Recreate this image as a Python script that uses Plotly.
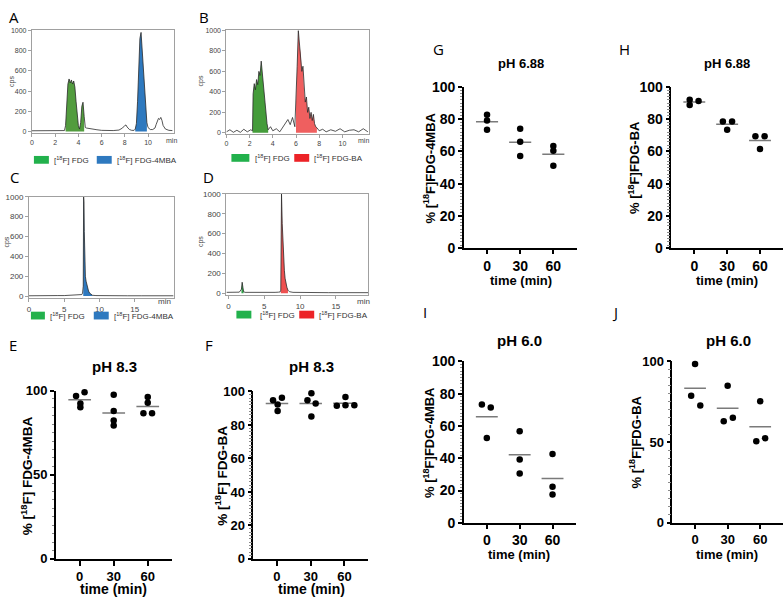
import plotly.graph_objects as go
import numpy as np

W, H = 784, 600
FONT = 'Liberation Sans, Arial, sans-serif'

# ---------------- Chromatogram data ----------------
A_t = [0, 0.5, 1.0, 1.5, 2.0, 2.5, 2.8, 2.9, 3.0, 3.1, 3.2, 3.3, 3.4, 3.5, 3.6, 3.7, 3.8, 3.9, 4.0, 4.1,
       4.2, 4.3, 4.4, 4.5, 4.6, 4.7, 4.9, 5.2, 5.6, 6.0, 6.5, 7.0, 7.5, 7.8, 8.0, 8.1, 8.2, 8.4, 8.6, 8.8,
       8.9, 9.0, 9.1, 9.2, 9.3, 9.4, 9.5, 9.6, 9.7, 9.8, 9.9, 10.0, 10.2, 10.4, 10.6, 10.7, 10.8, 10.9,
       11.0, 11.1, 11.2, 11.3, 11.5, 11.8, 12.1]
A_c = [8, 8, 8, 8, 8, 8, 10, 60, 330, 470, 520, 480, 510, 470, 500, 440, 300, 150, 60, 25,
       90, 250, 290, 150, 40, 35, 30, 25, 18, 12, 10, 10, 15, 35, 60, 65, 45, 20, 12, 12,
       25, 80, 300, 620, 920, 980, 800, 560, 350, 200, 90, 40, 20, 20, 35, 70, 110, 130,
       120, 140, 110, 60, 25, 12, 10]
A_green = (2.85, 4.55)
A_blue = (8.85, 9.95)

B_t = [0, 0.3, 0.6, 0.9, 1.2, 1.5, 1.8, 2.1, 2.25, 2.3, 2.4, 2.5, 2.6, 2.7, 2.8, 2.9, 3.0, 3.05, 3.1,
       3.2, 3.3, 3.4, 3.5, 3.6, 3.8, 4.0, 4.3, 4.6, 4.9, 5.1, 5.3, 5.5, 5.7, 5.9, 6.0, 6.1, 6.2, 6.3,
       6.4, 6.5, 6.6, 6.7, 6.8, 6.9, 7.0, 7.1, 7.2, 7.3, 7.4, 7.5, 7.6, 7.7, 7.8, 8.0, 8.3, 8.6, 9.0,
       9.4, 9.8, 10.2, 10.6, 11.0, 11.4, 11.8, 12.2]
B_c = [10, 30, 5, 25, 5, 35, 10, 30, 20, 380, 480, 420, 520, 470, 600, 560, 700, 640, 520,
       420, 280, 160, 90, 30, 60, 20, 40, 10, 60, 90, 130, 80, 150, 60, 300, 650, 1000, 850,
       780, 600, 650, 400, 300, 350, 200, 250, 140, 200, 120, 180, 90, 60, 50, 20, 35, 10, 30,
       15, 40, 10, 25, 30, 10, 40, 10]
B_green = (2.25, 3.6)
B_red = (5.95, 7.8)

C_t = [0, 1, 2, 3, 4, 5, 6, 6.5, 7, 7.3, 7.5, 7.6, 7.7, 7.75, 7.8, 7.85, 7.9, 7.95, 8.0, 8.1, 8.2,
       8.3, 8.45, 8.6, 8.8, 9.0, 9.5, 10, 12, 14, 16, 18, 19, 20, 20.5]
C_c = [3, 5, 6, 4, 5, 5, 8, 10, 12, 10, 15, 30, 100, 1000, 950, 650, 420, 280, 200, 150, 110,
       80, 50, 30, 15, 8, 5, 4, 4, 3, 3, 3, 3, 3, 3]
C_blue = (7.7, 9.0)

D_t = [-0.3, 0.5, 1, 1.5, 1.8, 1.9, 2.0, 2.1, 2.3, 3, 4, 5, 6, 6.5, 7, 7.2, 7.3, 7.35, 7.4, 7.5,
       7.6, 7.7, 7.8, 7.9, 8.0, 8.15, 8.3, 8.5, 9, 10, 12, 14, 16, 18, 19.5]
D_c = [8, 8, 8, 10, 40, 110, 60, 15, 8, 7, 7, 6, 8, 8, 10, 12, 30, 300, 1000, 700,
       500, 350, 230, 150, 100, 60, 30, 15, 8, 6, 5, 5, 5, 5, 5]
D_green = (1.75, 2.2)
D_red = (7.3, 8.4)

# ---------------- Stability data (% product) ----------------
times = [0, 30, 60]
E_vals = [[96.7, 99.0, 92.3, 90.0], [97.5, 87.8, 82.2, 79.3], [96.1, 92.7, 86.5, 86.5]]
F_vals = [[94.8, 96.3, 92.2, 88.3], [94.8, 99.0, 92.8, 85.0], [91.5, 96.7, 91.8, 91.8]]
G_vals = [[82.8, 79.2, 73.4], [74.0, 66.0, 57.2], [63.4, 60.4, 51.2]]
H_vals = [[92.0, 88.8, 91.2], [78.6, 78.6, 73.4], [69.4, 69.4, 61.6]]
I_vals = [[73.2, 71.4, 52.5], [56.7, 39.2, 30.6], [42.7, 22.3, 17.5]]
J_vals = [[98.4, 78.7, 72.7], [84.9, 62.9, 65.1], [75.3, 50.6, 52.4]]

# horizontal scatter offsets of points (minutes) as drawn by the scatter plot
E_jit = [[-3.2, 4.3, 0.6, 0.6], [0, 0, 0, 0], [0, 0, -3.8, 3.8]]
F_jit = [[-3.5, 4.4, 0.6, 0.6], [-2.9, 0.6, 4.4, 0.6], [-6.8, 0.9, 0.9, 8.8]]
G_jit = [[0, 0, 0], [0, 0, 0], [0, 0, 0]]
H_jit = [[-4.2, -4.2, 3.9], [-3.9, 4.5, 0], [-4.2, 4.2, 0]]
I_jit = [[-4.5, 3.6, 0], [0, 0, 0], [0, 0, 0]]
J_jit = [[0, -3.6, 4.8], [0, -3.6, 4.8], [0, -3.6, 4.5]]

GREEN_LEG, BLUE, RED_LEG = '#22b14c', '#2e79bf', '#ec2327'

def px(x):
    return x / W

def py(y):
    return 1 - y / H

fig = go.Figure()
layout = {}
annotations = []
shapes = []

def axname(i):
    return ('' if i == 1 else str(i))

def chrom_axes(i, x0, x1, ytop, ybot, xr, xticks, yr, tsize):
    s = axname(i)
    common = dict(showline=True, mirror=True, linecolor='#a0a0a0', linewidth=1, ticks='outside',
                  ticklen=3, tickcolor='#a0a0a0', showgrid=False, zeroline=False,
                  tickfont=dict(family=FONT, size=tsize, color='#444'))
    layout['xaxis' + s] = dict(domain=[px(x0), px(x1)], anchor='y' + s, range=xr,
                               tickvals=xticks, **common)
    layout['yaxis' + s] = dict(domain=[py(ybot), py(ytop)], anchor='x' + s, range=yr,
                               tickvals=[0, 200, 400, 600, 800, 1000], **common)

def chrom_traces(i, t, c, fills):
    s = axname(i)
    t = np.array(t, dtype=float)
    c = np.array(c, dtype=float)
    for (a, b), col in fills:
        m = (t >= a) & (t <= b)
        fig.add_trace(go.Scatter(x=t[m], y=c[m], mode='lines', line=dict(width=0),
                                 fill='tozeroy', fillcolor=col, xaxis='x' + s, yaxis='y' + s,
                                 showlegend=False, hoverinfo='skip'))
    fig.add_trace(go.Scatter(x=t, y=c, mode='lines', line=dict(color='#2a2a2a', width=0.8),
                             xaxis='x' + s, yaxis='y' + s, showlegend=False))

def scatter_panel(i, x0, x1, ytop, ybot, vals, jit, dtick, mdtick, tfs, xticklen=4):
    s = axname(i)
    bold = dict(family=FONT, size=tfs, color='black', weight='bold')
    layout['xaxis' + s] = dict(domain=[px(x0), px(x1)], anchor='y' + s, range=[-21, 81],
                               tickvals=times, showline=True, linecolor='black', linewidth=1.5,
                               ticks='outside', ticklen=xticklen, tickwidth=1.5, tickcolor='black',
                               showgrid=False, zeroline=False, tickfont=bold)
    layout['yaxis' + s] = dict(domain=[py(ybot), py(ytop)], anchor='x' + s, range=[0, 100],
                               tick0=0, dtick=dtick, showline=True, linecolor='black',
                               linewidth=1.5, ticks='outside', ticklen=4, tickwidth=1.5,
                               tickcolor='black', showgrid=False, zeroline=False, tickfont=bold,
                               minor=dict(ticks='outside', dtick=mdtick, ticklen=2.5,
                                          tickcolor='#8a8a8a', tickwidth=1, showgrid=False))
    xs, ys, mx, my = [], [], [], []
    for t, v, j in zip(times, vals, jit):
        xs += [t + d for d in j]
        ys += v
        m = float(np.mean(v))
        mx += [t - 10, t + 10, None]
        my += [m, m, None]
    fig.add_trace(go.Scatter(x=mx, y=my, mode='lines', line=dict(color='#7a7a7a', width=1.5),
                             xaxis='x' + s, yaxis='y' + s, showlegend=False))
    fig.add_trace(go.Scatter(x=xs, y=ys, mode='markers', cliponaxis=False,
                             marker=dict(color='black', size=6.5), xaxis='x' + s, yaxis='y' + s,
                             showlegend=False))

def ann(x, y, text, size, angle=0, family=FONT, weight='normal', color='black',
        xanchor='center'):
    annotations.append(dict(x=px(x), y=py(y), xref='paper', yref='paper', text=text,
                            showarrow=False, textangle=angle, xanchor=xanchor, yanchor='middle',
                            font=dict(family=family, size=size, color=color, weight=weight)))

def legend_box(x0, x1, y0, y1, col, tx, text):
    shapes.append(dict(type='rect', xref='paper', yref='paper', x0=px(x0), x1=px(x1),
                       y0=py(y1), y1=py(y0), fillcolor=col, line=dict(width=0)))
    ann(tx, (y0 + y1) / 2, text, 8, color='#333', xanchor='left')

# ---- Chromatograms ----
chrom_axes(1, 30, 172, 23, 128, [0, 12.2], [0, 2, 4, 6, 8, 10], [-10, 1000], 7)
chrom_traces(1, A_t, A_c, [(A_green, '#529c3e'), (A_blue, BLUE)])
chrom_axes(2, 225, 368, 23, 129, [0, 12.3], [0, 2, 4, 6, 8, 10], [-7, 1000], 7)
chrom_traces(2, B_t, B_c, [(B_green, '#449c3a'), (B_red, '#ef5f5f')])
chrom_axes(3, 27, 172, 194, 298, [0, 20.5], [0, 5, 10, 15], [-20, 1000], 8)
chrom_traces(3, C_t, C_c, [(C_blue, BLUE)])
chrom_axes(4, 225, 367, 191, 295, [-0.3, 19.5], [0, 5, 10, 15], [-20, 1000], 8)
chrom_traces(4, D_t, D_c, [(D_green, '#2fa048'), (D_red, '#ee5050')])

for (x, y) in [(10, 75), (200, 75), (5, 240), (199, 240)]:
    ann(x, y, 'cps', 7, angle=-90, color='#444')
for (x, y, sz) in [(170, 136, 7), (362, 136, 7), (163, 302, 8), (362, 302, 8)]:
    ann(x, y, 'min', sz, color='#444')

legend_box(32, 47, 152, 160, GREEN_LEG, 50, '[<sup>18</sup>F] FDG')
legend_box(95, 110, 152, 160, BLUE, 113, '[<sup>18</sup>F] FDG-4MBA')
legend_box(230, 248, 150, 158, GREEN_LEG, 252, '[<sup>18</sup>F] FDG')
legend_box(293, 308, 150, 158, RED_LEG, 311, '[<sup>18</sup>F] FDG-BA')
legend_box(29, 43, 312, 320, GREEN_LEG, 46, '[<sup>18</sup>F] FDG')
legend_box(92, 107, 312, 320, BLUE, 110, '[<sup>18</sup>F] FDG-4MBA')
legend_box(235, 250, 311, 319, GREEN_LEG, 257, '[<sup>18</sup>F] FDG')
legend_box(298, 313, 311, 319, RED_LEG, 316, '[<sup>18</sup>F] FDG-BA')

# ---- Stability scatter panels ----
scatter_panel(5, 54, 170, 393, 566, E_vals, E_jit, 50, 5, 13, xticklen=5)
scatter_panel(6, 252, 367, 394, 566, F_vals, F_jit, 20, 2, 13, xticklen=5)
scatter_panel(7, 463, 576, 81, 247, G_vals, G_jit, 20, 2, 14)
scatter_panel(8, 671, 783, 81, 247, H_vals, H_jit, 20, 2, 14)
scatter_panel(9, 463, 575, 363, 529, I_vals, I_jit, 20, 2, 14)
scatter_panel(10, 672, 783, 363, 529, J_vals, J_jit, 50, 5, 13)

B = 'bold'
ann(113, 368, 'pH 8.3', 15, weight=B)
ann(310, 368, 'pH 8.3', 15, weight=B)
ann(520, 57, 'pH 6.88', 13, weight=B)
ann(727, 57, 'pH 6.88', 13, weight=B)
ann(519, 342, 'pH 6.0', 15, weight=B)
ann(728, 342, 'pH 6.0', 15, weight=B)

ann(25, 480, '% [<sup>18</sup>F] FDG-4MBA', 13.5, angle=-90, weight=B)
ann(220, 480, '% [<sup>18</sup>F] FDG-BA', 13.5, angle=-90, weight=B)
ann(428, 164, '% [<sup>18</sup>F]FDG-4MBA', 13, angle=-90, weight=B)
ann(633, 164, '% [<sup>18</sup>F]FDG-BA', 13, angle=-90, weight=B)
ann(428, 446, '% [<sup>18</sup>F]FDG-4MBA', 13, angle=-90, weight=B)
ann(635, 446, '% [<sup>18</sup>F]FDG-BA', 13, angle=-90, weight=B)

ann(112, 597, 'time (min)', 14, weight=B)
ann(310, 597, 'time (min)', 14, weight=B)
ann(520, 280, 'time (min)', 13, weight=B)
ann(727, 280, 'time (min)', 13, weight=B)
ann(518, 561, 'time (min)', 13, weight=B)
ann(727, 561, 'time (min)', 13, weight=B)

for (x, y, t) in [(12, 9, 'A'), (203, 9, 'B'), (13, 174, 'C'), (207, 174, 'D'), (11, 346, 'E'),
                  (208, 346, 'F'), (438, 42, 'G'), (624, 42, 'H'), (424, 312, 'I'), (615, 312, 'J')]:
    ann(x, y, t, 15, family='Open Sans, sans-serif')

fig.update_layout(width=W, height=H, margin=dict(l=0, r=0, t=0, b=0), paper_bgcolor='white',
                  plot_bgcolor='white', showlegend=False, annotations=annotations, shapes=shapes,
                  font=dict(family=FONT), **layout)
fig.write_html('out.html')
